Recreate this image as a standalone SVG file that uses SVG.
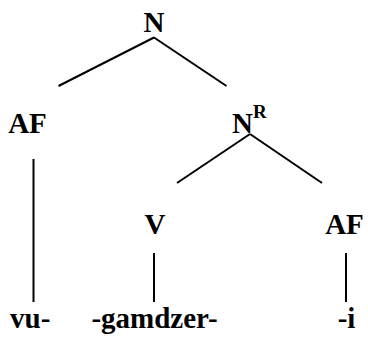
<svg xmlns="http://www.w3.org/2000/svg" width="368" height="342" viewBox="0 0 368 342">
<style>
text{font-family:"Liberation Serif","Times New Roman",serif;font-weight:bold;font-size:29px;fill:#000}
.sup{font-size:19px}
line{stroke:#000;stroke-width:2}
</style>
<rect width="368" height="342" fill="#fff"/>
<g id="connectors">
<line x1="154" y1="37.5" x2="58.5" y2="86"/>
<line x1="154" y1="37.5" x2="226.5" y2="86"/>
<line x1="250" y1="134" x2="177" y2="183"/>
<line x1="250" y1="134" x2="322" y2="183"/>
<line x1="33.5" y1="159" x2="33.5" y2="302"/>
<line x1="154" y1="253" x2="154" y2="302"/>
<line x1="346" y1="253" x2="346" y2="302"/>
</g>
<g id="n-root"><text x="154" y="32" text-anchor="middle">N</text></g>
<g id="af-left"><text x="27.5" y="133" text-anchor="middle">AF</text></g>
<g id="n-r"><text x="232" y="133">N<tspan class="sup" dy="-15">R</tspan></text></g>
<g id="v"><text x="155" y="234" text-anchor="middle">V</text></g>
<g id="af-right"><text x="344.5" y="234" text-anchor="middle">AF</text></g>
<g id="vu"><text x="10" y="328">vu-</text></g>
<g id="gamdzer"><text x="154.5" y="328" text-anchor="middle">-gamdzer-</text></g>
<g id="i"><text x="346.5" y="328" text-anchor="middle">-i</text></g>
</svg>
